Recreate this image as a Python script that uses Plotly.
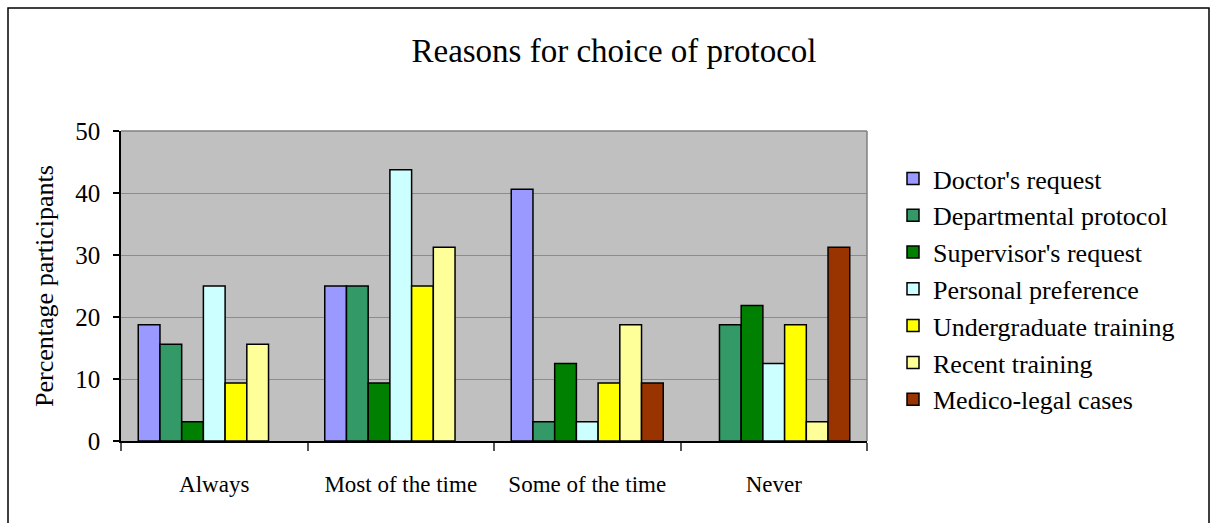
import plotly.graph_objects as go

categories = ["Always", "Most of the time", "Some of the time", "Never"]
series_names = ["Doctor's request", "Departmental protocol", "Supervisor's request",
                "Personal preference", "Undergraduate training", "Recent training",
                "Medico-legal cases"]
doctors_request = [18.75, 25.0, 40.625, 0]
departmental_protocol = [15.625, 25.0, 3.125, 18.75]
supervisors_request = [3.125, 9.375, 12.5, 21.875]
personal_preference = [25.0, 43.75, 3.125, 12.5]
undergraduate_training = [9.375, 25.0, 9.375, 18.75]
recent_training = [15.625, 31.25, 18.75, 3.125]
medico_legal_cases = [0, 0, 9.375, 31.25]
series_values = [doctors_request, departmental_protocol, supervisors_request,
                 personal_preference, undergraduate_training, recent_training,
                 medico_legal_cases]
colors = ["#9999FF", "#339966", "#008000", "#CCFFFF", "#FFFF00", "#FFFF99", "#993300"]
y_ticks = [0, 10, 20, 30, 40, 50]

FONT = "Liberation Serif"

fig = go.Figure()
for name, vals, col in zip(series_names, series_values, colors):
    # zero values are not drawn at all in the reference
    shown = [v if v else None for v in vals]
    fig.add_trace(go.Bar(
        x=categories, y=shown, name=name,
        marker=dict(color=col, line=dict(color="black", width=1.5)),
    ))

L, R, T, B = 121, 867, 131, 441
W, H = 1212, 523
pw, ph = R - L, B - T

def px2x(p):
    return (p - L) / pw

def px2y(p):
    return (B - p) / ph

fig.update_layout(
    template="none",
    width=W, height=H,
    margin=dict(l=L, r=W - R, t=T, b=H - B, pad=0),
    paper_bgcolor="white",
    plot_bgcolor="#C0C0C0",
    barmode="group", bargap=0.185, bargroupgap=0,
    font=dict(family=FONT, color="black", size=24),
    title=dict(text="Reasons for choice of protocol", x=614 / W, xanchor="center",
               y=1 - 50 / H, yanchor="middle", font=dict(size=33, family=FONT)),
    legend=dict(x=px2x(893), xanchor="left", y=px2y(155), yanchor="top",
                font=dict(size=26, family=FONT, color="black"), itemwidth=30,
                bgcolor="rgba(0,0,0,0)", tracegroupgap=0),
    xaxis=dict(showline=True, linecolor="black", linewidth=1.5,
               ticks="outside", tickson="boundaries", ticklen=8, tickcolor="#555",
               tickwidth=1.5, ticklabelstandoff=22,
               tickfont=dict(size=23, family=FONT),
               showgrid=False, zeroline=False),
    yaxis=dict(range=[0, 50], tickvals=y_ticks, showline=True, linecolor="black",
               linewidth=1.5, ticks="outside", ticklen=6, tickwidth=1.5,
               tickcolor="black", ticklabelstandoff=8,
               tickfont=dict(size=25, family=FONT),
               showgrid=True, gridcolor="#8C8C8C", gridwidth=1.2, zeroline=False,
               title=dict(text="Percentage participants",
                          font=dict(size=26, family=FONT), standoff=14)),
    showlegend=True,
)

# plot area top/right border (gray)
fig.add_shape(type="line", xref="paper", yref="paper", x0=0, x1=1, y0=1, y1=1,
              line=dict(color="#808080", width=1.5))
fig.add_shape(type="line", xref="paper", yref="paper", x0=1, x1=1, y0=0, y1=1,
              line=dict(color="#808080", width=1.5))
# outer chart border
fig.add_shape(type="rect", xref="paper", yref="paper",
              x0=px2x(8), x1=px2x(1209), y0=px2y(540), y1=px2y(8),
              line=dict(color="black", width=1.5), fillcolor="rgba(0,0,0,0)")

fig.write_html("out.html")
